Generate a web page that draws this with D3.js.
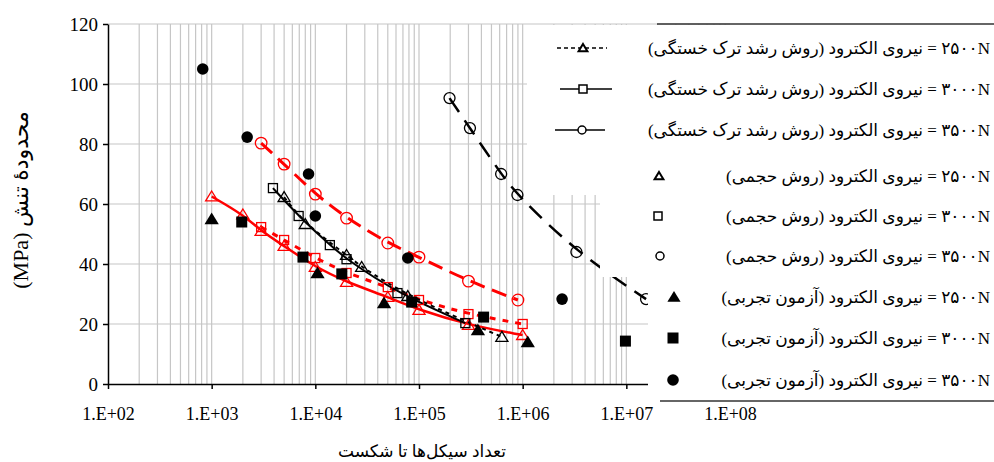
<!DOCTYPE html>
<html>
<head>
<meta charset="utf-8">
<script src="https://cdn.jsdelivr.net/npm/d3@7/dist/d3.min.js"></script>
<style>
  body { margin: 0; background: #fff; }
</style>
</head>
<body>
<script>
// data (cycles to failure, stress range in MPa)
var expN2500 = [1000, 10500, 46000, 370000, 1120000];
var expS2500 = [55, 37, 27, 18, 14];
var expN3000 = [1950, 7600, 18000, 85000, 420000, 9800000];
var expS3000 = [54, 42.3, 36.7, 27.3, 22.3, 14.3];
var expN3500 = [820, 2200, 8600, 10000, 78000, 2400000];
var expS3500 = [105, 82.3, 70, 56, 42, 28.3];

var volN2500 = [1000, 2000, 3000, 5000, 10000, 20000, 50000, 100000, 300000, 1000000];
var volS2500 = [62.5, 56.5, 51, 46, 39, 34, 29, 24.7, 19.7, 16.3];
var volN3000 = [3000, 5000, 10000, 20000, 50000, 100000, 300000, 1000000];
var volS3000 = [52.3, 48, 42, 37, 32.3, 28, 23.3, 20];
var volN3500 = [3000, 5000, 10000, 20000, 50000, 100000, 300000, 900000];
var volS3500 = [80.3, 73.3, 63.3, 55.3, 47, 42.3, 34.3, 28];

var crkN2500 = [5000, 8000, 20000, 28000, 78000, 630000];
var crkS2500 = [62.3, 53.3, 43, 39, 29.3, 15.7];
var crkN3000 = [3900, 6900, 13800, 20000, 62000, 280000];
var crkS3000 = [65.3, 56, 46.3, 41.6, 30.3, 20.3];
var crkN3500 = [197000, 310000, 620000, 890000, 3300000, 15500000];
var crkS3500 = [95.3, 85.3, 70, 63, 44, 28.3];

var yTicks = [0, 20, 40, 60, 80, 100, 120];
var xTicks = [1e2, 1e3, 1e4, 1e5, 1e6, 1e7, 1e8];

var legendLabels = [
  "۲۵۰۰N = نیروی الکترود (روش رشد ترک خستگی)",
  "۳۰۰۰N = نیروی الکترود (روش رشد ترک خستگی)",
  "۳۵۰۰N = نیروی الکترود (روش رشد ترک خستگی)",
  "۲۵۰۰N = نیروی الکترود (روش حجمی)",
  "۳۰۰۰N = نیروی الکترود (روش حجمی)",
  "۳۵۰۰N = نیروی الکترود (روش حجمی)",
  "۲۵۰۰N = نیروی الکترود (آزمون تجربی)",
  "۳۰۰۰N = نیروی الکترود (آزمون تجربی)",
  "۳۵۰۰N = نیروی الکترود (آزمون تجربی)"
];

var yLabel = "محدودهٔ تنش (MPa)";
var xLabel = "تعداد سیکل‌ها تا شکست";

var serif = "'Liberation Serif', 'DejaVu Serif', serif";
var mixed = "'Liberation Serif', 'DejaVu Sans', serif";

var svgWidth = 994;
var svgHeight = 462;

var svg = d3.select("body")
  .append("svg")
  .attr("width", svgWidth)
  .attr("height", svgHeight);

var xScale = d3.scaleLog().domain([1e2, 1e8]).range([108, 730]);
var yScale = d3.scaleLinear().domain([0, 120]).range([384, 24]);

// grid
var grid = svg.append("g").attr("stroke", "#c6c6c6").attr("stroke-width", 1.2);
var minor = [];
for (var k = 2; k <= 7; k++) {
  for (var m = 1; m <= 9; m++) {
    if (k === 2 && m === 1) continue;
    minor.push(m * Math.pow(10, k));
  }
}
grid.selectAll(".vg").data(minor).enter().append("line")
  .attr("x1", d => xScale(d)).attr("x2", d => xScale(d))
  .attr("y1", yScale(120)).attr("y2", yScale(0));
grid.selectAll(".hg").data(yTicks.filter(d => d > 0)).enter().append("line")
  .attr("x1", xScale(1e2)).attr("x2", xScale(1e8))
  .attr("y1", d => yScale(d)).attr("y2", d => yScale(d));

// axes
var leftAxis = d3.axisLeft(yScale).tickValues(yTicks).tickSize(5).tickSizeOuter(0).tickPadding(5);
var bottomAxis = d3.axisBottom(xScale).tickValues(xTicks).tickSize(5).tickSizeOuter(0).tickPadding(18)
  .tickFormat(d => "1.E+" + String(Math.round(Math.log10(d))).padStart(2, "0"));

var gy = svg.append("g").attr("transform", "translate(" + xScale(1e2) + ",0)").call(leftAxis);
var gx = svg.append("g").attr("transform", "translate(0," + yScale(0) + ")").call(bottomAxis);
[gy, gx].forEach(function(g) {
  g.attr("font-family", serif);
  g.select(".domain").attr("stroke", "#000").attr("stroke-width", 1.5);
  g.selectAll(".tick line").attr("stroke", "#000").attr("stroke-width", 1.5);
  g.selectAll(".tick text")
    .style("font-family", serif)
    .style("font-size", "19px")
    .attr("fill", "#000");
});
gx.selectAll(".tick text").style("font-size", "18px");

// markers
function marker(g, type, x, y, s, stroke, fill, sw) {
  var el;
  if (type === "tri") {
    el = g.append("path").attr("d", "M" + x + "," + (y - s) + "L" + (x + s * 1.1) + "," + (y + s * 0.8) + "L" + (x - s * 1.1) + "," + (y + s * 0.8) + "Z");
  } else if (type === "sq") {
    el = g.append("rect").attr("x", x - s).attr("y", y - s).attr("width", 2 * s).attr("height", 2 * s);
  } else {
    el = g.append("circle").attr("cx", x).attr("cy", y).attr("r", s);
  }
  el.attr("stroke", stroke).attr("fill", fill).attr("stroke-width", sw);
  return el;
}

function zip(ns, ss) { return ns.map((n, i) => [n, ss[i]]); }

var line = d3.line().x(d => xScale(d[0])).y(d => yScale(d[1])).curve(d3.curveBasis);

var series = [
  { pts: zip(volN2500, volS2500), color: "#ff0000", width: 2.5, dash: null, mk: "tri", size: 5.5, fill: "none", msw: 1.3 },
  { pts: zip(volN3000, volS3000), color: "#ff0000", width: 3, dash: "6,7", mk: "sq", size: 4.5, fill: "none", msw: 1.3 },
  { pts: zip(volN3500, volS3500), color: "#ff0000", width: 3, dash: "15,8", mk: "circ", size: 5.8, fill: "none", msw: 1.3 },
  { pts: zip(crkN2500, crkS2500), color: "#000", width: 2, dash: "4,4", mk: "tri", size: 5.5, fill: "none", msw: 1.3 },
  { pts: zip(crkN3000, crkS3000), color: "#000", width: 2, dash: null, mk: "sq", size: 4.5, fill: "none", msw: 1.3 },
  { pts: zip(crkN3500, crkS3500), color: "#000", width: 2.5, dash: "17,10", mk: "circ", size: 5.5, fill: "none", msw: 1.3 }
];

var plot = svg.append("g");
series.forEach(function(s) {
  plot.append("path").datum(s.pts)
    .attr("d", line)
    .attr("fill", "none")
    .attr("stroke", s.color)
    .attr("stroke-width", s.width)
    .attr("stroke-dasharray", s.dash);
});
series.forEach(function(s) {
  s.pts.forEach(function(p) {
    marker(plot, s.mk, xScale(p[0]), yScale(p[1]), s.size, s.color, s.fill, s.msw);
  });
});

var expSeries = [
  { pts: zip(expN2500, expS2500), mk: "tri", size: 6.5 },
  { pts: zip(expN3000, expS3000), mk: "sq", size: 5.5 },
  { pts: zip(expN3500, expS3500), mk: "circ", size: 5.8 }
];
expSeries.forEach(function(s) {
  s.pts.forEach(function(p) {
    marker(plot, s.mk, xScale(p[0]), yScale(p[1]), s.size, "#000", "#000", 0);
  });
});

// legend overlapping the plot
svg.append("path")
  .attr("d", "M527,25L994,25L994,400L648,400L648,277L600,277L600,195L527,195Z")
  .attr("fill", "#fff");
svg.append("line").attr("x1", 657).attr("x2", 994).attr("y1", 24).attr("y2", 24)
  .attr("stroke", "#333").attr("stroke-width", 1.5);
svg.append("line").attr("x1", 660).attr("x2", 994).attr("y1", 401).attr("y2", 401)
  .attr("stroke", "#333").attr("stroke-width", 1.5);

var rowY = [48, 89, 130, 176, 216, 256, 297, 338, 380];
var legend = svg.append("g");
legendLabels.forEach(function(t, i) {
  legend.append("text")
    .attr("x", 990)
    .attr("y", rowY[i] + 6)
    .attr("direction", "rtl")
    .attr("text-anchor", "start")
    .style("font-family", mixed)
    .style("font-size", "17px")
    .text(t);
});
// line keys
var keyLines = [[557, 607, "4,3", 1.3], [560, 612, null, 1.5], [555, 605, null, 1.5]];
keyLines.forEach(function(k, i) {
  legend.append("line").attr("x1", k[0]).attr("x2", k[1])
    .attr("y1", rowY[i]).attr("y2", rowY[i])
    .attr("stroke", "#000").attr("stroke-width", k[3]).attr("stroke-dasharray", k[2]);
});
marker(legend, "tri", 583, rowY[0], 4, "#000", "#fff", 2);
marker(legend, "sq", 583, rowY[1], 4, "#000", "#fff", 1.5);
marker(legend, "circ", 582, rowY[2], 4, "#000", "#fff", 1.5);
marker(legend, "tri", 659, rowY[3], 4, "#000", "#fff", 2);
marker(legend, "sq", 658, rowY[4], 4, "#000", "#fff", 1.5);
marker(legend, "circ", 660, rowY[5], 4, "#000", "#fff", 1.5);
marker(legend, "tri", 674, rowY[6], 6, "#000", "#000", 0);
marker(legend, "sq", 673, rowY[7], 5.5, "#000", "#000", 0);
marker(legend, "circ", 673, rowY[8], 5.8, "#000", "#000", 0);

// axis titles
svg.append("text")
  .attr("transform", "translate(28,200) rotate(-90)")
  .attr("direction", "rtl")
  .attr("text-anchor", "middle")
  .style("font-family", mixed)
  .style("font-size", "22px")
  .text(yLabel);

svg.append("text")
  .attr("x", 422)
  .attr("y", 457)
  .attr("direction", "rtl")
  .attr("text-anchor", "middle")
  .style("font-family", mixed)
  .style("font-size", "17px")
  .text(xLabel);
</script>
</body>
</html>
